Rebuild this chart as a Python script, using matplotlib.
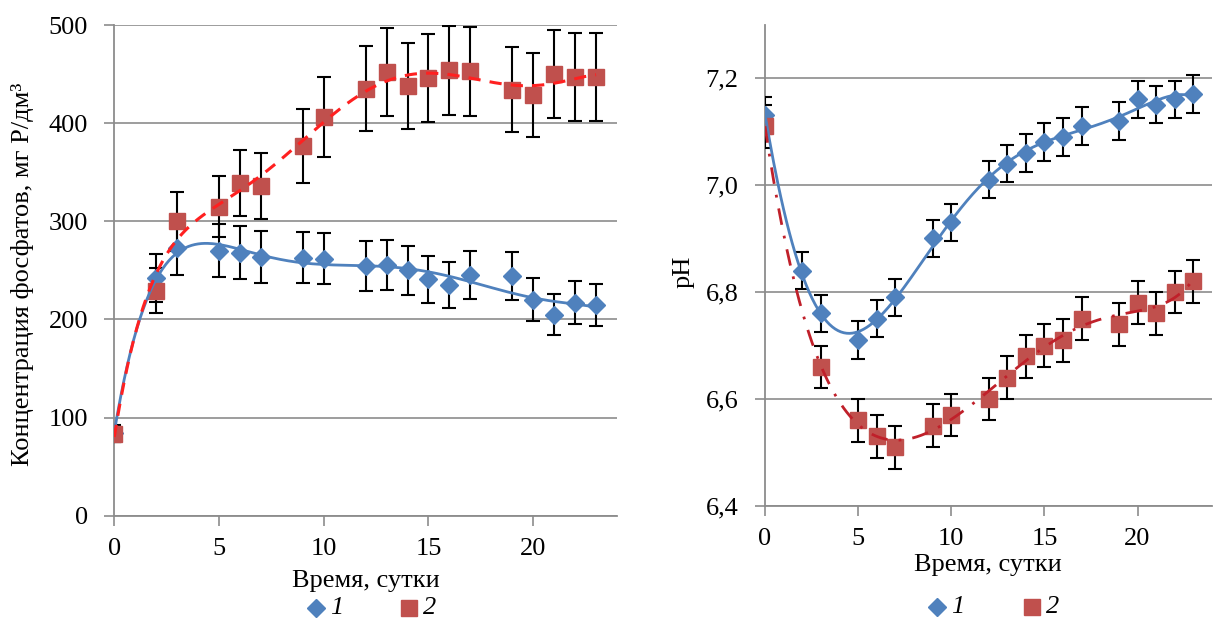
import matplotlib.pyplot as plt
import numpy as np

plt.rcParams['font.family'] = ['Liberation Serif', 'DejaVu Serif']

# Время, сутки
days_1 = [0, 2, 3, 5, 6, 7, 9, 10, 12, 13, 14, 15, 16, 17, 19, 20, 21, 22, 23]
days_2 = [0, 2, 3, 5, 6, 7, 9, 10, 12, 13, 14, 15, 16, 17, 19, 20, 21, 22, 23]
days_ph_2 = [0, 3, 5, 6, 7, 9, 10, 12, 13, 14, 15, 16, 17, 19, 20, 21, 22, 23]

# Концентрация фосфатов, мг P/дм3
phos_1 = [84, 242, 273, 270, 268, 264, 263, 262, 254, 255, 250, 241, 235, 245, 244, 220, 205, 217, 215]
phos_2 = [83, 229, 300, 315, 339, 336, 377, 406, 435, 452, 438, 446, 454, 453, 434, 429, 450, 447, 447]

# pH
ph_1 = [7.13, 6.84, 6.76, 6.71, 6.75, 6.79, 6.90, 6.93, 7.01, 7.04, 7.06, 7.08, 7.09, 7.11, 7.12, 7.16, 7.15, 7.16, 7.17]
ph_2 = [7.11, 6.66, 6.56, 6.53, 6.51, 6.55, 6.57, 6.60, 6.64, 6.68, 6.70, 6.71, 6.75, 6.74, 6.78, 6.76, 6.80, 6.82]

BLUE = '#4F81BD'
RED = '#C0504D'
GRID = '#8C8C8C'
FS = 19
W, H = 1213, 624


def trend(x, y, deg=6):
    # полиномиальный тренд, как в Excel
    c = np.polyfit(x, y, deg)
    xs = np.linspace(min(x), max(x), 300)
    return xs, np.polyval(c, xs)


def style_axes(ax):
    for s in ['top', 'right']:
        ax.spines[s].set_visible(False)
    for s in ['left', 'bottom']:
        ax.spines[s].set_color(GRID)
        ax.spines[s].set_linewidth(1.3)
    ax.yaxis.grid(True, color=GRID, linewidth=1.2)
    ax.set_axisbelow(True)
    ax.tick_params(direction='out', length=7, color=GRID, width=1.2, labelsize=FS)
    ax.tick_params(axis='x', pad=9)
    ax.tick_params(axis='y', pad=12)
    ax.set_xticks([0, 5, 10, 15, 20])
    ax.set_xlim(0, 24)


def px_text(fig, x, y, s, **kw):
    # текст в пикселях от левого верхнего угла
    fig.text(x / W, 1 - y / H, s, fontsize=FS, **kw)


def draw_legend(fig, xd, xs_, y):
    ax = fig.add_axes([0, 0, 1, 1], facecolor='none')
    ax.set_xlim(0, W)
    ax.set_ylim(H, 0)
    ax.axis('off')
    ax.plot([xd], [y], marker='D', color=BLUE, ms=9.5, ls='none')
    px_text(fig, xd + 14, y, '1', style='italic', va='center')
    ax.plot([xs_], [y], marker='s', color=RED, ms=11, ls='none')
    px_text(fig, xs_ + 14, y, '2', style='italic', va='center')


fig = plt.figure(figsize=(W / 100, H / 100), dpi=100)

# Левый график - фосфаты
ax1 = fig.add_axes([114.3 / W, (H - 515.7) / H, 502.7 / W, 490.7 / H])
style_axes(ax1)
ax1.set_ylim(0, 500)
ax1.set_yticks([0, 100, 200, 300, 400, 500])

err1 = [v * 0.1 for v in phos_1]
err2 = [v * 0.1 for v in phos_2]
ax1.errorbar(days_1, phos_1, yerr=err1, fmt='D', color=BLUE, ms=9.5, ecolor='black',
             elinewidth=1.5, capsize=5, capthick=1.5, zorder=3)
ax1.errorbar(days_2, phos_2, yerr=err2, fmt='s', color=RED, ms=11, ecolor='black',
             elinewidth=1.5, capsize=5, capthick=1.5, zorder=3)
xs, ys = trend(days_1, phos_1)
ax1.plot(xs, ys, color=BLUE, lw=2, zorder=4)
xs, ys = trend(days_2, phos_2)
ax1.plot(xs, ys, color='#FF2020', lw=2.2, ls=(0, (4, 3)), zorder=4)

px_text(fig, 366, 581, 'Время, сутки', ha='center', va='center')
px_text(fig, 23, 274, 'Концентрация фосфатов, мг Р/дм³', rotation=90, ha='center', va='center')

# Правый график - pH
ax2 = fig.add_axes([765 / W, (H - 506) / H, 447 / W, 481.5 / H])
style_axes(ax2)
ax2.set_ylim(6.4, 7.3)
ax2.set_yticks([6.4, 6.6, 6.8, 7.0, 7.2])
ax2.set_yticklabels([f'{v:.1f}'.replace('.', ',') for v in [6.4, 6.6, 6.8, 7.0, 7.2]])

ax2.errorbar(days_1, ph_1, yerr=0.035, fmt='D', color=BLUE, ms=9.5, ecolor='black',
             elinewidth=1.5, capsize=5, capthick=1.5, zorder=3)
ax2.errorbar(days_ph_2, ph_2, yerr=0.04, fmt='s', color=RED, ms=11, ecolor='black',
             elinewidth=1.5, capsize=5, capthick=1.5, zorder=3)
xs, ys = trend(days_1, ph_1)
ax2.plot(xs, ys, color=BLUE, lw=2, zorder=4)
xs, ys = trend(days_ph_2, ph_2)
ax2.plot(xs, ys, color='#C0202A', lw=2, ls=(0, (6, 4, 1, 4)), zorder=4)

px_text(fig, 988, 565, 'Время, сутки', ha='center', va='center')
px_text(fig, 684, 272, 'pH', rotation=90, ha='center', va='center')

draw_legend(fig, 316, 409, 608)
draw_legend(fig, 937, 1032, 607)

fig.savefig('out.png', dpi=100)
